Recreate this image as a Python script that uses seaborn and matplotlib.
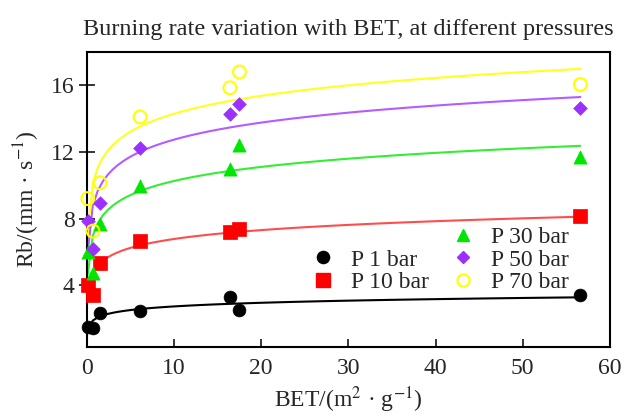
import numpy as np
import pandas as pd
import matplotlib
matplotlib.use("Agg")
import matplotlib.pyplot as plt
import seaborn as sns
from matplotlib.lines import Line2D

bet = [0.1, 0.7, 1.5, 6.1, 16.4, 17.5, 56.6]
p1 = [1.5, 1.45, 2.35, 2.45, 3.3, 2.5, 3.4]
p10 = [4.0, 3.4, 5.35, 6.65, 7.2, 7.4, 8.15]
p30 = [6.0, 4.75, 7.65, 9.95, 11.0, 12.4, 11.7]
p50 = [7.85, 6.2, 8.95, 12.25, 14.3, 14.85, 14.65]
p70 = [9.2, 7.25, 10.15, 14.1, 15.85, 16.8, 16.05]
labels = ['P 1 bar', 'P 10 bar', 'P 30 bar', 'P 50 bar', 'P 70 bar']

sns.set_style("ticks")
plt.rcParams['font.family'] = ['Liberation Serif', 'DejaVu Serif']
plt.rcParams['mathtext.fontset'] = 'stix'

# стиль серий: маркер, размер, цвет точки, цвет линии, заливка
styles = [
    ('o', 85, 'black', 'black', True),
    ('s', 100, '#ff0000', '#ff4d4d', True),
    ('^', 90, '#00e600', '#33ee33', True),
    ('D', 48, '#9b30ff', '#b35cff', True),
    ('o', 85, '#ffff00', '#ffff22', False),
]

df = pd.DataFrame({'BET': bet, 'P 1 bar': p1, 'P 10 bar': p10,
                   'P 30 bar': p30, 'P 50 bar': p50, 'P 70 bar': p70})

fig = plt.figure(figsize=(6.25, 4.19), dpi=100)
ax = fig.add_axes([0.139, 0.172, 0.837, 0.704])

handles = [Line2D([], [], linestyle='none', marker='')]
for lab, (m, s, c, lc, filled) in zip(labels, styles):
    sns.regplot(x='BET', y=lab, data=df, logx=True, ci=None, scatter=False,
                truncate=True, ax=ax, line_kws={'color': lc, 'lw': 1.5})
    if filled:
        sns.scatterplot(x='BET', y=lab, data=df, marker=m, s=s, color=c,
                        edgecolor=c, linewidth=0.5, ax=ax, clip_on=False, zorder=3)
        h = Line2D([], [], linestyle='none', marker=m, color=c,
                   markersize=np.sqrt(s) * 0.95)
    else:
        ax.scatter(df['BET'], df[lab], marker=m, s=s, facecolors='none',
                   edgecolors=c, linewidths=1.5, clip_on=False, zorder=3)
        h = Line2D([], [], linestyle='none', marker=m, markerfacecolor='none',
                   markeredgecolor=c, markeredgewidth=1.5,
                   markersize=np.sqrt(s) * 0.95)
    handles.append(h)

ax.set_xlim(0, 60)
ax.set_ylim(0.3, 18)
ax.set_xticks([0, 10, 20, 30, 40, 50, 60])
ax.set_yticks([4, 8, 12, 16])
ax.tick_params(axis='x', direction='in', length=6, width=1.3, labelsize=17, pad=8)
ax.tick_params(axis='y', direction='inout', length=12, width=1.3, labelsize=17, pad=3)
for sp in ax.spines.values():
    sp.set_visible(True)
    sp.set_linewidth(1.5)
    sp.set_color('black')

ax.set_title('Burning rate variation with BET, at different pressures',
             fontsize=17.5, pad=12)
ax.set_xlabel('BET/(m$^2$ · g$^{-1}$)', fontsize=17, labelpad=4)
ax.set_ylabel('Rb/(mm · s$^{-1}$)', fontsize=17, labelpad=6)

ax.legend(handles, [''] + labels, ncol=2, frameon=False, loc='lower right',
          bbox_to_anchor=(0.94, 0.15), fontsize=17, handletextpad=0.2,
          columnspacing=0.45, labelspacing=0.05, borderaxespad=0)

fig.savefig('out.png', dpi=100)
